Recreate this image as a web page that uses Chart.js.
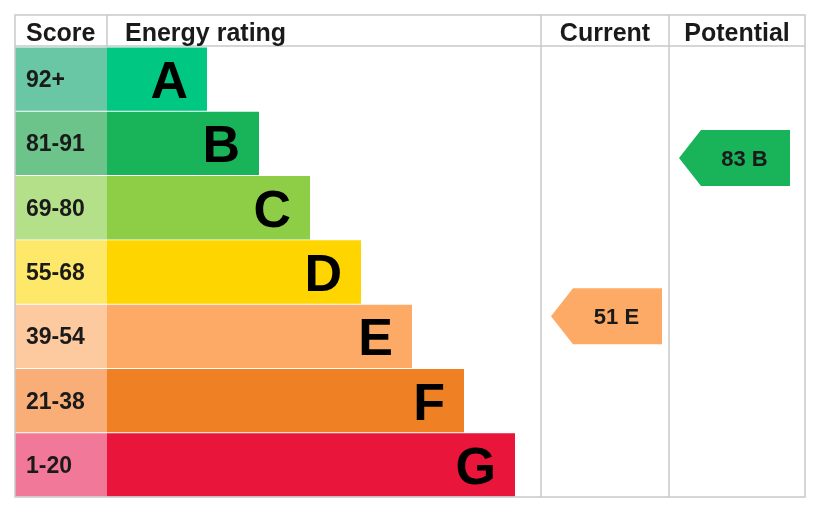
<!DOCTYPE html>
<html>
<head>
<meta charset="utf-8">
<script src="https://cdn.jsdelivr.net/npm/chart.js@4.4.1/dist/chart.umd.min.js"></script>
<style>
  html, body { margin: 0; padding: 0; background: #fff; }
  #wrap { width: 818px; height: 513px; }
</style>
</head>
<body>
<div id="wrap"><canvas id="epc" width="818" height="513"></canvas></div>
<script>
// bands, top (best) to bottom
const bands = ["A", "B", "C", "D", "E", "F", "G"];
const scoreRanges = ["92+", "81-91", "69-80", "55-68", "39-54", "21-38", "1-20"];
const bandMin = [92, 81, 69, 55, 39, 21, 1];
const bandMax = [100, 91, 80, 68, 54, 38, 20];
// rating bar lengths (x units)
const barLengths = [100, 152, 203, 254, 305, 357, 408];
const bandColors = ["#00c781", "#19b459", "#8dce46", "#ffd500", "#fcaa65", "#ef8023", "#e9153b"];
const scoreColors = ["#6ac7a5", "#6cc48a", "#b4e08a", "#fde86a", "#fdcaa0", "#f9ae78", "#f2789a"];

const currentScore = 51;
const potentialScore = 83;
const headers = ["Score", "Energy rating", "Current", "Potential"];

// x-axis units across the table, left border = 0
const SCORE_W = 92;
const CUR_X = [526, 654];
const POT_X = [654, 790];
const X_MAX = 790;

const FONT = "'Liberation Sans', Arial, sans-serif";

function bandOf(score) {
  return bandMin.findIndex((m, i) => score >= m && score <= bandMax[i]);
}

const tablePlugin = {
  id: "epcTable",
  afterDatasetsDraw(chart) {
    const ctx = chart.ctx;
    const x = chart.scales.x, y = chart.scales.y;
    const area = chart.chartArea;
    const px = v => x.getPixelForValue(v);
    const step = y.getPixelForValue(1) - y.getPixelForValue(0);
    const top = area.top - 32;

    ctx.save();
    // grid lines
    ctx.strokeStyle = "#c9c9c9";
    ctx.lineWidth = 1.5;
    ctx.beginPath();
    ctx.rect(px(0), top, px(X_MAX) - px(0), area.bottom - top);
    ctx.moveTo(px(0), area.top - 1); ctx.lineTo(px(X_MAX), area.top - 1);
    ctx.moveTo(px(SCORE_W), top); ctx.lineTo(px(SCORE_W), area.top);
    ctx.moveTo(px(CUR_X[0]), top); ctx.lineTo(px(CUR_X[0]), area.bottom);
    ctx.moveTo(px(POT_X[0]), top); ctx.lineTo(px(POT_X[0]), area.bottom);
    ctx.stroke();

    // headers
    ctx.fillStyle = "#1a1a1a";
    ctx.font = "bold 25px " + FONT;
    ctx.textBaseline = "alphabetic";
    ctx.textAlign = "left";
    ctx.fillText(headers[0], px(0) + 11, top + 26);
    ctx.fillText(headers[1], px(SCORE_W) + 18, top + 26);
    ctx.textAlign = "center";
    ctx.fillText(headers[2], (px(CUR_X[0]) + px(CUR_X[1])) / 2, top + 26);
    ctx.fillText(headers[3], (px(POT_X[0]) + px(POT_X[1])) / 2, top + 26);

    // score labels and band letters
    bands.forEach((b, i) => {
      const cy = y.getPixelForValue(i);
      ctx.fillStyle = "#1a1a1a";
      ctx.textAlign = "left";
      ctx.font = "bold 23px " + FONT;
      ctx.fillText(scoreRanges[i], px(0) + 11, cy + 8);
      ctx.fillStyle = "#000";
      ctx.textAlign = "right";
      ctx.font = "bold 52px " + FONT;
      ctx.fillText(b, px(SCORE_W + barLengths[i]) - 19, cy + 19);
    });

    // arrows
    function arrow(score, cols) {
      const i = bandOf(score);
      const frac = (bandMax[i] - score) / (bandMax[i] - bandMin[i] + 1);
      const cy = y.getPixelForValue(i) - step / 2 + frac * step;
      const h = 56, tip = 22, w = 111;
      const left = px(cols[0]) + 10, right = left + w;
      ctx.fillStyle = bandColors[i];
      ctx.beginPath();
      ctx.moveTo(left, cy);
      ctx.lineTo(left + tip, cy - h / 2);
      ctx.lineTo(right, cy - h / 2);
      ctx.lineTo(right, cy + h / 2);
      ctx.lineTo(left + tip, cy + h / 2);
      ctx.closePath();
      ctx.fill();
      ctx.fillStyle = "#1a1a1a";
      ctx.textAlign = "center";
      ctx.font = "bold 22px " + FONT;
      ctx.fillText(score + " " + bands[i], (left + tip + right) / 2 - 1, cy + 8);
    }
    arrow(currentScore, CUR_X);
    arrow(potentialScore, POT_X);
    ctx.restore();
  }
};

new Chart(document.getElementById("epc"), {
  type: "bar",
  data: {
    labels: bands,
    datasets: [
      {
        label: "Score",
        data: bands.map(() => [0, SCORE_W]),
        backgroundColor: scoreColors,
        grouped: false,
        barPercentage: 1,
        categoryPercentage: 0.985
      },
      {
        label: "Energy rating",
        data: barLengths.map(l => [SCORE_W, SCORE_W + l]),
        backgroundColor: bandColors,
        grouped: false,
        barPercentage: 1,
        categoryPercentage: 0.985
      }
    ]
  },
  options: {
    indexAxis: "y",
    responsive: false,
    animation: false,
    layout: { padding: { left: 15, right: 13, top: 47, bottom: 16 } },
    plugins: {
      legend: { display: false },
      tooltip: { enabled: false }
    },
    scales: {
      x: { type: "linear", min: 0, max: X_MAX, display: false },
      y: { type: "category", display: false }
    }
  },
  plugins: [tablePlugin]
});
</script>
</body>
</html>
